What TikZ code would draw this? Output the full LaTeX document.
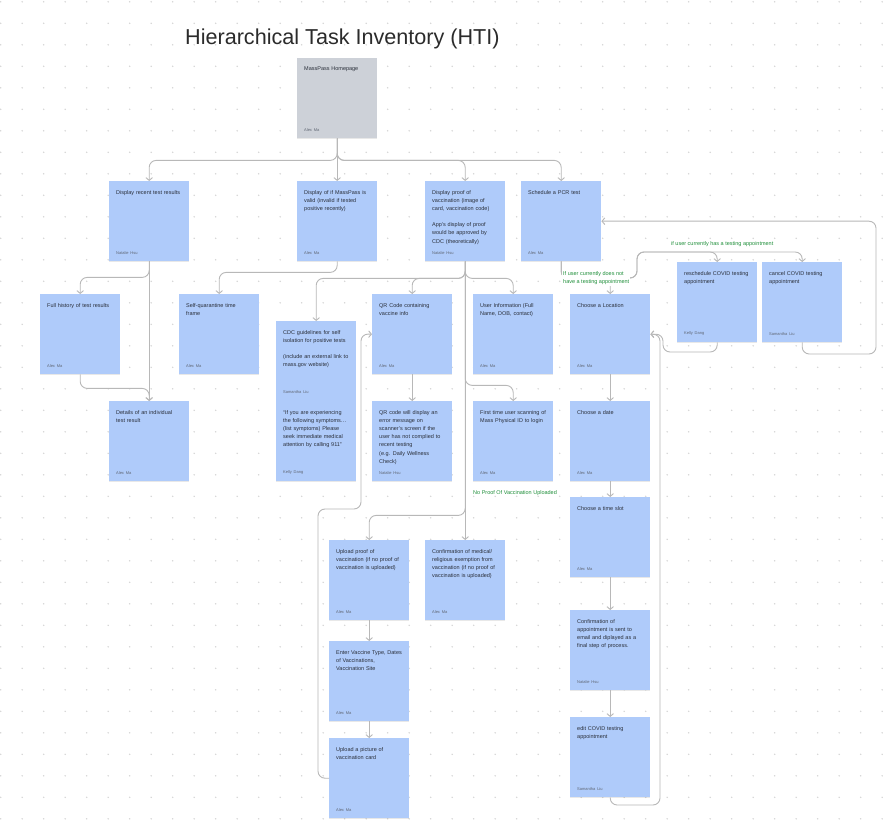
\documentclass[tikz,border=0pt]{standalone}
\usepackage{fontspec}
\setmainfont{Liberation Sans}
\usepackage{tikz}
\usetikzlibrary{positioning,arrows.meta,shadows}
\definecolor{StickyBlue}{HTML}{AFCBFA}
\definecolor{HomeGray}{HTML}{CDD1D8}
\definecolor{CardText}{HTML}{2A2F3A}
\definecolor{AuthorGray}{HTML}{5F6673}
\definecolor{LinkGray}{HTML}{B8B8B8}
\definecolor{BranchGreen}{HTML}{1F8F3A}
\definecolor{GridDot}{HTML}{D4D4D4}
\definecolor{TitleInk}{HTML}{2B2B2B}

\newcommand{\byline}[1]{\leavevmode{\fontsize{4}{5}\selectfont\color{AuthorGray}#1}}
\newcommand{\cardbody}[3]{\vbox to #1{\vskip2pt #2\par\vfill\byline{#3}\par\kern0pt}}

\tikzset{
  sticky/.style={fill=StickyBlue,anchor=north west,inner sep=7pt,
    text width=66pt,align=left,minimum width=80pt,minimum height=80pt,
    font=\fontsize{5.5}{8.2}\selectfont,text=CardText,
    drop shadow={shadow xshift=0pt,shadow yshift=-1.2pt,opacity=0.15,fill=black!60}},
  homecard/.style={sticky,fill=HomeGray},
  link/.style={draw=LinkGray,line width=0.9pt,rounded corners=7pt,
    -{Straight Barb[length=2.8pt,width=6.6pt]}},
  branch/.style={text=BranchGreen,font=\fontsize{5.5}{8}\selectfont,align=left,inner sep=1pt},
}

\begin{document}
\begin{tikzpicture}[x=1pt,y=1pt]
    \fill[white] (0,0) rectangle (883,-826);
    \useasboundingbox (0,0) rectangle (883,-826);
    \foreach \i in {0,...,41} {
      \foreach \j in {0,...,38} {
        \fill[GridDot] (0.7+21.5*\i,-1.8-21.5*\j) circle (0.8);
      }
    }

    \node[anchor=west,inner sep=0pt,text=TitleInk,font=\fontsize{21.6}{26}\selectfont]
      (title) at (185,-39) {Hierarchical Task Inventory (HTI)};

    \node[homecard] (home) at (297,-58) {\cardbody{66pt}{MassPass Homepage}{Alex Ma}};

    \node[sticky] (recent) at (109,-181) {\cardbody{66pt}{Display recent test results}{Natalie Hsu}};
    \node[sticky] (valid) at (297,-181)
      {\cardbody{66pt}{Display of if MassPass is\\valid (invalid if tested\\positive recently)}{Alex Ma}};
    \node[sticky] (proof) at (425,-181)
      {\cardbody{66pt}{Display proof of\\vaccination (image of\\card, vaccination code)\par\vskip8pt
        App's display of proof\\would be approved by\\CDC (theoretically)}{Natalie Hsu}};
    \node[sticky] (sched) at (521,-181) {\cardbody{66pt}{Schedule a PCR test}{Alex Ma}};

    \node[sticky] (history) at (40,-294) {\cardbody{66pt}{Full history of test results}{Alex Ma}};
    \node[sticky] (selfq) at (179,-294) {\cardbody{66pt}{Self-quarantine time\\frame}{Alex Ma}};
    \node[sticky,minimum height=160pt] (cdc) at (276,-321)
      {\cardbody{146pt}{CDC guidelines for self\\isolation for positive tests\par\vskip8pt
        (include an external link to\\mass.gov website)\par\vskip19pt
        \byline{Samantha Liu}\par\vskip12pt
        “If you are experiencing\\the following symptoms…\\(list symptoms) Please\\seek immediate medical\\attention by calling 911”}{Kelly Dang}};
    \node[sticky] (qr) at (372,-294) {\cardbody{66pt}{QR Code containing\\vaccine info}{Alex Ma}};
    \node[sticky] (userinfo) at (473,-294) {\cardbody{66pt}{User Information (Full\\Name, DOB, contact)}{Alex Ma}};
    \node[sticky] (loc) at (570,-294) {\cardbody{66pt}{Choose a Location}{Alex Ma}};
    \node[sticky] (resched) at (677,-262) {\cardbody{66pt}{reschedule COVID testing\\appointment}{Kelly Dang}};
    \node[sticky] (cancel) at (762,-262) {\cardbody{66pt}{cancel COVID testing\\appointment}{Samantha Liu}};

    \node[sticky] (details) at (109,-401) {\cardbody{66pt}{Details of an individual\\test result}{Alex Ma}};
    \node[sticky] (qrerr) at (372,-401)
      {\cardbody{66pt}{QR code will display an\\error message on\\scanner's screen if the\\user has not complied to\\recent testing\\(e.g. Daily Wellness\\Check)}{Natalie Hsu}};
    \node[sticky] (first) at (473,-401) {\cardbody{66pt}{First time user scanning of\\Mass Physical ID to login}{Alex Ma}};
    \node[sticky] (date) at (570,-401) {\cardbody{66pt}{Choose a date}{Alex Ma}};
    \node[sticky] (slot) at (570,-497) {\cardbody{66pt}{Choose a time slot}{Alex Ma}};
    \node[sticky] (confirm) at (570,-610)
      {\cardbody{66pt}{Confirmation of\\appointment is sent to\\email and diplayed as a\\final step of process.}{Natalie Hsu}};
    \node[sticky] (edit) at (570,-717) {\cardbody{66pt}{edit COVID testing\\appointment}{Samantha Liu}};

    \node[sticky] (upproof) at (329,-540)
      {\cardbody{66pt}{Upload proof of\\vaccination (if no proof of\\vaccination is uploaded)}{Alex Ma}};
    \node[sticky] (exempt) at (425,-540)
      {\cardbody{66pt}{Confirmation of medical/\\religious exemption from\\vaccination (if no proof of\\vaccination is uploaded)}{Alex Ma}};
    \node[sticky] (vaccine) at (329,-641)
      {\cardbody{66pt}{Enter Vaccine Type, Dates\\of Vaccinations,\\Vaccination Site}{Alex Ma}};
    \node[sticky] (picture) at (329,-738) {\cardbody{66pt}{Upload a picture of\\vaccination card}{Alex Ma}};

    \draw[link] (home.south) -- ++(0,-22) -| (recent.north);
    \draw[link] (home.south) -- (valid.north);
    \draw[link] (home.south) -- ++(0,-22) -| (proof.north);
    \draw[link] (home.south) -- ++(0,-22) -| (sched.north);

    \draw[link] (recent.south) -- ++(0,-16) -| (history.north);
    \draw[link] (recent.south) -- (details.north);
    \draw[link] (history.south) -- ++(0,-14) -| (details.north);
    \draw[link] (valid.south) -- ++(0,-11) -| (selfq.north);

    \draw[link] (proof.south) -- ++(0,-17) -| (cdc.north);
    \draw[link] (proof.south) -- ++(0,-17) -| (qr.north);
    \draw[link] (proof.south) -- ++(0,-17) -| (userinfo.north);
    \draw[link] (proof.south) -- ++(0,-124) -| (first.north);
    \draw[link] (proof.south) -- ++(0,-254) -| (upproof.north);
    \draw[link] (proof.south) -- (exempt.north);
    \draw[link] (qr.south) -- (qrerr.north);
    \draw[link] (upproof.south) -- (vaccine.north);
    \draw[link] (vaccine.south) -- (picture.north);
    \draw[link] (picture.west) -| (318,-509) -| (361,-334) -- (qr.west);

    \draw[link] (sched.south) -- ++(0,-17) -| (loc.north);
    \draw[link] (sched.south) |- (637,-278) |- (680,-252) -| (resched.north);
    \draw[link] (sched.south) |- (637,-278) |- (680,-252) -| (cancel.north);
    \draw[link] (cancel.south) |- (876,-354) |- (sched.east);
    \draw[link] (resched.south) |- (663,-352) |- (loc.east);
    \draw[link] (edit.south) |- (660,-805) |- (loc.east);
    \draw[link] (loc.south) -- (date.north);
    \draw[link] (date.south) -- (slot.north);
    \draw[link] (slot.south) -- (confirm.north);
    \draw[link] (confirm.south) -- (edit.north);

    \node[branch,anchor=west] (hasappt) at (670,-244) {if user currently has a testing appointment};
    \node[branch,anchor=west,fill=white] (noappt) at (562,-278) {If user currently does not\\have a testing appointment};
    \node[branch,anchor=west] (noproof) at (472,-493) {No Proof Of Vaccination Uploaded};
\end{tikzpicture}
\end{document}
